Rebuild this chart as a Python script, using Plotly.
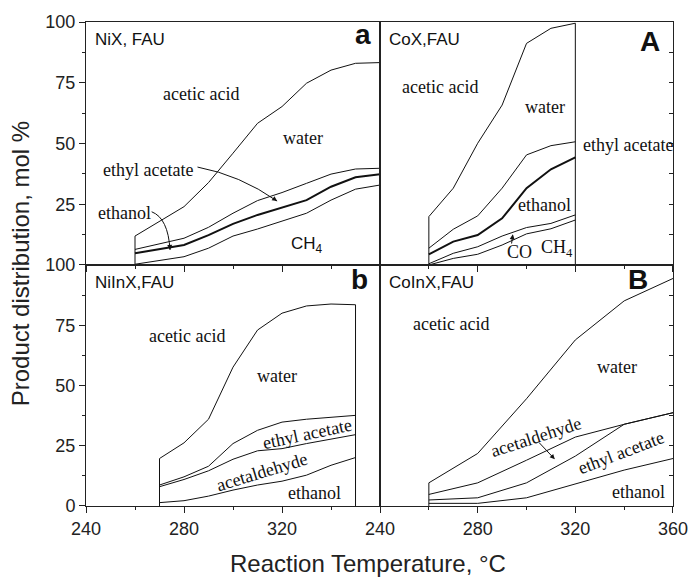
import plotly.graph_objects as go

# ---------------- data (cumulative boundaries, mol %) ----------------
# Panel a: NiX, FAU
temps_a = [260, 280, 290, 300, 310, 320, 330, 340, 350, 360]
a_ch4 = [0.3, 3.4, 6.9, 11.9, 14.8, 18.1, 21.3, 26.7, 31.2, 32.9]
a_ethanol = [4.8, 8.2, 12.3, 16.9, 20.6, 23.7, 26.7, 32.2, 36.1, 37.3]
a_ethyl_acetate = [6.4, 11.0, 15.5, 21.3, 26.5, 29.8, 33.6, 37.4, 39.5, 39.8]
a_water = [11.9, 24.0, 33.9, 46.0, 58.3, 65.2, 74.8, 80.2, 83.0, 83.3]

# Panel A: CoX, FAU
temps_A = [260, 270, 280, 290, 300, 310, 320]
A_ch4 = [0.0, 2.7, 4.4, 8.2, 12.8, 14.9, 18.5]
A_co = [0.5, 4.8, 7.5, 11.9, 15.4, 17.1, 20.6]
A_ethanol = [4.4, 9.6, 12.3, 19.2, 31.6, 39.4, 44.3]
A_ethyl_acetate = [6.9, 14.7, 20.2, 31.6, 45.3, 49.1, 50.7]
A_water = [19.9, 31.6, 50.1, 65.8, 91.2, 97.4, 99.5]

# Panel b: NiInX, FAU
temps_b = [270, 280, 290, 300, 310, 320, 330, 340, 350]
b_ethanol = [1.4, 2.2, 4.1, 6.6, 8.7, 10.3, 12.8, 16.9, 20.1]
b_acetaldehyde = [8.0, 11.0, 14.6, 19.4, 22.9, 23.8, 25.9, 27.6, 29.6]
b_ethyl_acetate = [8.7, 12.1, 16.5, 25.9, 31.4, 34.8, 36.0, 36.9, 37.6]
b_water = [19.7, 26.2, 36.0, 57.6, 73.0, 80.0, 83.0, 83.8, 83.5]

# Panel B: CoInX, FAU
temps_B = [260, 280, 300, 320, 340, 360]
B_ethanol = [1.1, 1.1, 3.4, 9.1, 14.9, 19.7]
B_ethyl_acetate = [2.5, 3.4, 9.6, 20.7, 33.9, 38.7]
B_acetaldehyde = [4.8, 9.6, 19.0, 28.6, 33.9, 38.7]
B_water = [9.6, 21.8, 44.5, 68.9, 85.1, 94.4]

x_left_ticks = [240, 280, 320]
x_right_ticks = [240, 280, 320, 360]
y_top_ticks = [25, 50, 75, 100]
y_bottom_ticks = [0, 25, 50, 75, 100]

# ---------------- figure ----------------
fig = go.Figure()
BLACK = "#111111"


def add_line(x, y, xa, ya, width=1.0):
    fig.add_trace(go.Scatter(x=x, y=y, mode="lines", xaxis=xa, yaxis=ya,
                             line=dict(color=BLACK, width=width),
                             hoverinfo="skip", showlegend=False))


def outline(temps, top, close_end):
    xs = [temps[0]] + list(temps)
    ys = [0] + list(top)
    if close_end:
        xs = xs + [temps[-1]]
        ys = ys + [0]
    return xs, ys


# panel a
add_line(temps_a, a_ch4, "x", "y")
add_line(temps_a, a_ethanol, "x", "y", 2.0)
add_line(temps_a, a_ethyl_acetate, "x", "y")
xs, ys = outline(temps_a, a_water, False)
add_line(xs, ys, "x", "y")

# panel A
add_line(temps_A, A_ch4, "x2", "y2")
add_line(temps_A, A_co, "x2", "y2")
add_line(temps_A, A_ethanol, "x2", "y2", 2.0)
add_line(temps_A, A_ethyl_acetate, "x2", "y2")
xs, ys = outline(temps_A, A_water, True)
add_line(xs, ys, "x2", "y2")

# panel b
add_line(temps_b, b_ethanol, "x3", "y3")
add_line(temps_b, b_acetaldehyde, "x3", "y3")
add_line(temps_b, b_ethyl_acetate, "x3", "y3")
xs, ys = outline(temps_b, b_water, True)
add_line(xs, ys, "x3", "y3")

# panel B
add_line(temps_B, B_ethanol, "x4", "y4")
add_line(temps_B, B_ethyl_acetate, "x4", "y4")
add_line(temps_B, B_acetaldehyde, "x4", "y4")
xs, ys = outline(temps_B, B_water, False)
add_line(xs, ys, "x4", "y4")

SANS = "Liberation Sans, Arial, sans-serif"
SERIF = "Liberation Serif, Times New Roman, serif"
AX_COLOR = "#222222"

XL = [0, 0.5009]
XR = [0.5009, 1]
YT = [0.498, 1]
YB = [0, 0.498]


def xaxis(domain, anchor, tickvals, labels):
    return dict(domain=domain, anchor=anchor, range=[240, 360],
                tickmode="array", tickvals=tickvals,
                showticklabels=labels, ticks="outside", ticklen=6,
                ticklabeloverflow="allow", automargin=False,
                tickcolor=AX_COLOR, showline=True, linecolor=AX_COLOR,
                linewidth=1, mirror=True, showgrid=False, zeroline=False,
                tickfont=dict(family=SANS, size=18, color="#222"),
                minor=dict(tickmode="linear", tick0=240, dtick=20,
                           ticks="outside", ticklen=3, tickcolor=AX_COLOR),
                fixedrange=True)


def yaxis(domain, anchor, tickvals, left):
    d = dict(domain=domain, anchor=anchor, range=[0, 100],
             tickmode="array", tickvals=tickvals,
             showline=True, linecolor=AX_COLOR, linewidth=1, mirror=True,
             showgrid=False, zeroline=False, tickcolor=AX_COLOR,
             ticklabeloverflow="allow", automargin=False,
             tickfont=dict(family=SANS, size=18, color="#222"),
             fixedrange=True)
    if left:
        d.update(side="left", ticks="outside", ticklen=6, showticklabels=True,
                 minor=dict(tickmode="linear", tick0=0, dtick=12.5,
                            ticks="outside", ticklen=3, tickcolor=AX_COLOR))
    else:
        d.update(side="right", ticks="inside", ticklen=4, showticklabels=False,
                 tickvals=[0, 25, 50, 75, 100],
                 minor=dict(tickmode="linear", tick0=0, dtick=12.5,
                            ticks="inside", ticklen=4, tickcolor=AX_COLOR))
    return d


fig.update_layout(
    width=688, height=577,
    margin=dict(l=86, r=15, t=22, b=71, autoexpand=False),
    paper_bgcolor="white", plot_bgcolor="white",
    xaxis=xaxis(XL, "y", x_left_ticks, False),
    yaxis=yaxis(YT, "x", y_top_ticks, True),
    xaxis2=xaxis(XR, "y2", x_right_ticks, False),
    yaxis2=yaxis(YT, "x2", y_top_ticks, False),
    xaxis3=xaxis(XL, "y3", x_left_ticks, True),
    yaxis3=yaxis(YB, "x3", y_bottom_ticks, True),
    xaxis4=xaxis(XR, "y4", x_right_ticks, True),
    yaxis4=yaxis(YB, "x4", y_bottom_ticks, False),
)

ann = []


def label(text, x, y, xr, yr, size=18, family=SERIF, angle=0):
    ann.append(dict(text=text, x=x, y=y, xref=xr, yref=yr, showarrow=False,
                    font=dict(family=family, size=size, color=BLACK),
                    textangle=angle, xanchor="center", yanchor="middle"))


def arrow(x0, y0, x1, y1, xr, yr):
    ann.append(dict(text="", x=x1, y=y1, ax=x0, ay=y0, xref=xr, yref=yr,
                    axref=xr, ayref=yr, showarrow=True, arrowhead=2,
                    arrowsize=1, arrowwidth=1, arrowcolor=BLACK))


def curve(x0, y0, cx, cy, x1, y1, xr, yr):
    fig.add_shape(type="path", xref=xr, yref=yr,
                  path=f"M {x0},{y0} Q {cx},{cy} {x1},{y1}",
                  line=dict(color=BLACK, width=1))
    tx = x1 - 0.15 * (x1 - cx)
    ty = y1 - 0.15 * (y1 - cy)
    arrow(tx, ty, x1, y1, xr, yr)


# panel names and letters (letter x, y in axis-domain fractions)
panels = [("NiX, FAU", "a", "x", "y", 0.942, 0.947),
          ("CoX,FAU", "A", "x2", "y2", 0.92, 0.918),
          ("NiInX,FAU", "b", "x3", "y3", 0.93, 0.938),
          ("CoInX,FAU", "B", "x4", "y4", 0.88, 0.938)]
for name, letter, xr, yr, lx, ly in panels:
    ann.append(dict(text=name, x=0.025, y=0.975, xref=f"{xr} domain",
                    yref=f"{yr} domain", showarrow=False, xanchor="left",
                    yanchor="top", font=dict(family=SANS, size=17, color=BLACK)))
    ann.append(dict(text=f"<b>{letter}</b>", x=lx, y=ly,
                    xref=f"{xr} domain", yref=f"{yr} domain", showarrow=False,
                    xanchor="center", yanchor="middle",
                    font=dict(family=SANS, size=28, color=BLACK)))

# panel a labels
label("acetic acid", 287, 70.4, "x", "y")
label("water", 328.6, 52.3, "x", "y")
label("ethyl acetate", 265.3, 39.1, "x", "y")
label("ethanol", 255.9, 21.4, "x", "y")
label("CH<sub>4</sub>", 330.2, 8.2, "x", "y", size=17, family=SANS)
curve(285.5, 40.3, 302.9, 37.0, 318.0, 26.3, "x", "y")
curve(266.8, 21.9, 273.5, 19.3, 274.3, 6.2, "x", "y")

# panel A labels
label("acetic acid", 264.7, 73.3, "x2", "y2")
label("water", 307.4, 65.0, "x2", "y2")
label("ethyl acetate", 341.6, 49.4, "x2", "y2")
label("ethanol", 307.4, 24.7, "x2", "y2")
label("CO", 297.2, 5.5, "x2", "y2")
label("CH<sub>4</sub>", 312.3, 6.9, "x2", "y2")
arrow(293.8, 8.2, 294.4, 12.6, "x2", "y2")

# panel b labels
label("acetic acid", 281.1, 70.7, "x3", "y3")
label("water", 317.8, 53.8, "x3", "y3")
label("ethyl acetate", 330.1, 30.0, "x3", "y3", angle=-12)
label("acetaldehyde", 311.7, 14.2, "x3", "y3", angle=-17)
label("ethanol", 333.1, 5.2, "x3", "y3")

# panel B labels
label("acetic acid", 269.1, 75.5, "x4", "y4")
label("water", 336.9, 57.6, "x4", "y4")
label("acetaldehyde", 304.0, 28.6, "x4", "y4", angle=-18)
label("ethyl acetate", 338.5, 21.8, "x4", "y4", angle=-21)
label("ethanol", 345.8, 5.9, "x4", "y4")
arrow(304.5, 27.0, 311.6, 19.4, "x4", "y4")

# axis titles
ann.append(dict(text="Product distribution, mol %", x=-0.112, y=0.5,
                xref="paper", yref="paper", showarrow=False, textangle=-90,
                xanchor="center", yanchor="middle",
                font=dict(family=SANS, size=24, color="#222")))
ann.append(dict(text="Reaction Temperature, °C", x=0.48, y=-0.118,
                xref="paper", yref="paper", showarrow=False,
                xanchor="center", yanchor="middle",
                font=dict(family=SANS, size=24, color="#222")))

fig.update_layout(annotations=ann)

fig.write_html("out.html")
